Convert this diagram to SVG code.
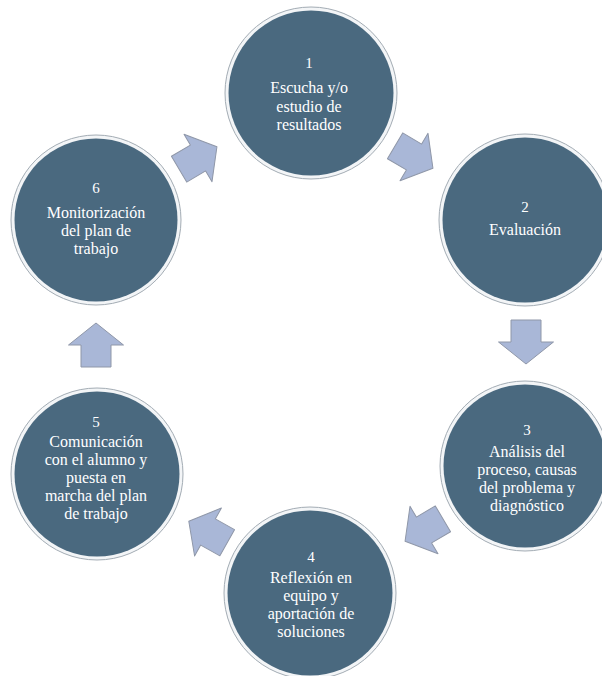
<svg xmlns="http://www.w3.org/2000/svg" width="602" height="676" viewBox="0 0 602 676">
<style>
.ring{fill:#f3f5f7;stroke:#a3acb4;stroke-width:1}
.disc{fill:#4a697f}
text{font-family:'Liberation Serif','Times New Roman',serif;font-size:16px;fill:#ffffff;text-anchor:middle}
text.n{font-size:15px}
.arr{fill:#a9b7d7;stroke:#8f97a8;stroke-width:1;stroke-linejoin:round}
</style>
<defs>
<path id="ar" d="M-22,-15 L0,-15 L0,-27.5 L22,0 L0,27.5 L0,15 L-22,15 Z"/>
</defs>
<rect width="602" height="676" fill="#ffffff"/>
<g id="connectors">
<use href="#ar" class="arr" transform="translate(414,157) rotate(30.6)"/>
<use href="#ar" class="arr" transform="translate(526,342) rotate(90)"/>
<use href="#ar" class="arr" transform="translate(424,530) rotate(149.4)"/>
<use href="#ar" class="arr" transform="translate(208,532) rotate(209.2)"/>
<use href="#ar" class="arr" transform="translate(96,345) rotate(-90)"/>
<use href="#ar" class="arr" transform="translate(198,158) rotate(-30.6)"/>
</g>
<g id="node1">
<circle class="ring" cx="311" cy="93" r="86"/><circle class="disc" cx="311" cy="93" r="82.5"/>
<text class="n" x="309" y="68">1</text>
<text x="309" y="93">Escucha y/o</text>
<text x="309" y="112">estudio de</text>
<text x="309" y="130">resultados</text>
</g>
<g id="node2">
<circle class="ring" cx="525" cy="220" r="86"/><circle class="disc" cx="525" cy="220" r="82.5"/>
<text class="n" x="525" y="212">2</text>
<text x="525" y="235">Evaluación</text>
</g>
<g id="node3">
<circle class="ring" cx="525" cy="466" r="85"/><circle class="disc" cx="525" cy="466" r="81.5"/>
<text class="n" x="527" y="435">3</text>
<text x="527" y="457">Análisis del</text>
<text x="527" y="475">proceso, causas</text>
<text x="527" y="493">del problema y</text>
<text x="527" y="511">diagnóstico</text>
</g>
<g id="node4">
<circle class="ring" cx="310" cy="593" r="86"/><circle class="disc" cx="310" cy="593" r="82.5"/>
<text class="n" x="311" y="562">4</text>
<text x="311" y="583">Reflexión en</text>
<text x="311" y="601">equipo y</text>
<text x="311" y="619">aportación de</text>
<text x="311" y="637">soluciones</text>
</g>
<g id="node5">
<circle class="ring" cx="97" cy="474" r="86"/><circle class="disc" cx="97" cy="474" r="82.5"/>
<text class="n" x="96" y="427">5</text>
<text x="96" y="447">Comunicación</text>
<text x="96" y="465">con el alumno y</text>
<text x="96" y="483">puesta en</text>
<text x="96" y="501">marcha del plan</text>
<text x="96" y="519">de trabajo</text>
</g>
<g id="node6">
<circle class="ring" cx="96" cy="220" r="85"/><circle class="disc" cx="96" cy="220" r="81.5"/>
<text class="n" x="96" y="193">6</text>
<text x="96" y="218">Monitorización</text>
<text x="96" y="236">del plan de</text>
<text x="96" y="254">trabajo</text>
</g>
</svg>
